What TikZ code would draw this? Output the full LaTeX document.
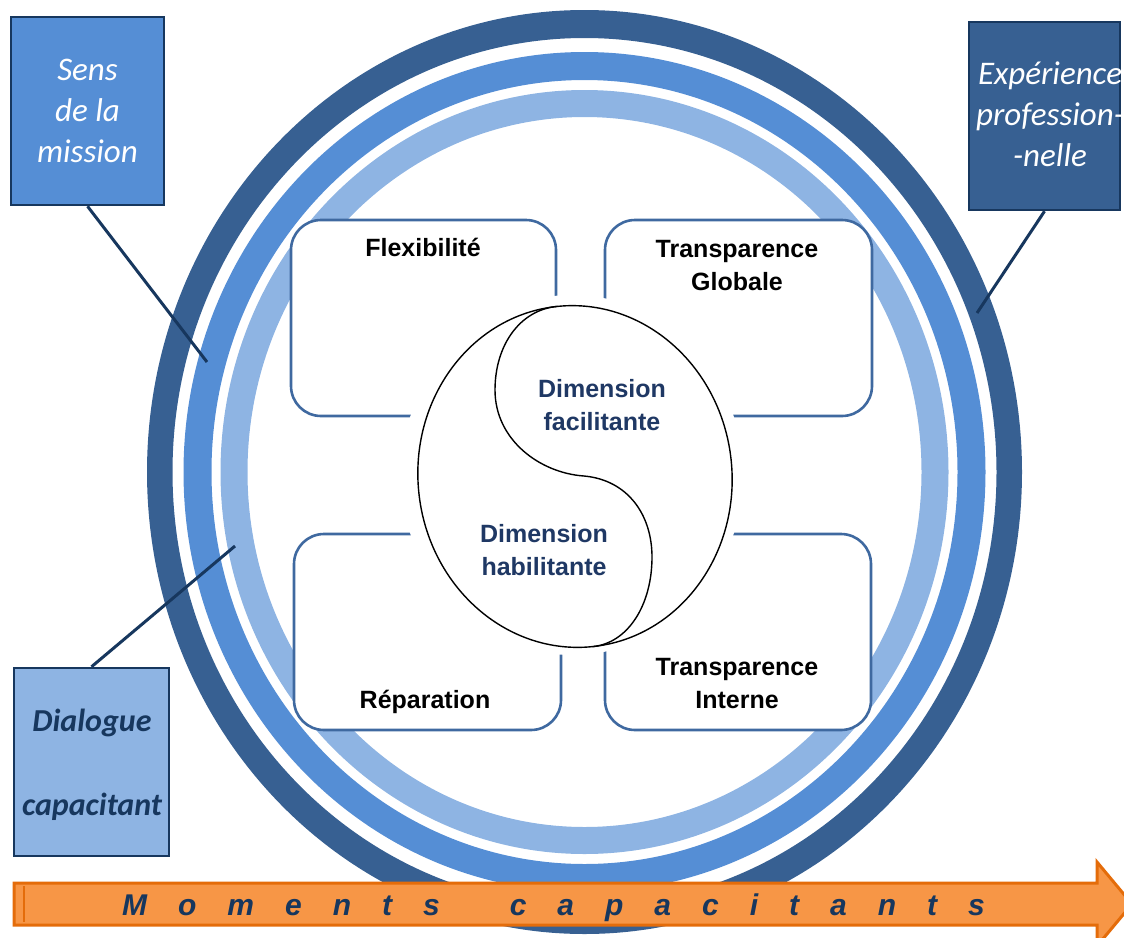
\documentclass[tikz,border=0pt]{standalone}
\usepackage{fontspec}
\newfontfamily\arialf{Liberation Sans}
\newfontfamily\calibf{Carlito}
\definecolor{ringdark}{HTML}{376092}
\definecolor{ringmid}{HTML}{558ED5}
\definecolor{ringlight}{HTML}{8EB4E3}
\definecolor{navy}{HTML}{17375E}
\definecolor{boxline}{HTML}{3F69A0}
\definecolor{dimblue}{HTML}{1F3864}
\definecolor{orfill}{HTML}{F79646}
\definecolor{orline}{HTML}{E46C0A}
\newcommand\gapM{\hspace{31pt}}
\begin{document}
\begin{tikzpicture}[x=1pt,y=-1pt,
  ringpart/.style={even odd rule},
  inbox/.style={draw=boxline, line width=2.6pt, fill=white, rounded corners=30pt, inner sep=0pt},
  callbox/.style={draw=navy, line width=2.5pt, inner sep=0pt},
  leader/.style={draw=navy, line width=3pt},
  boxtxt/.style={font=\arialf\bfseries\fontsize{25}{30}\selectfont, anchor=base, inner sep=0pt, text=black},
  dimtxt/.style={boxtxt, text=dimblue},
  calltxt/.style={font=\calibf\itshape\fontsize{33}{40}\selectfont, text=white, anchor=base, inner sep=0pt},
  dialtxt/.style={font=\calibf\bfseries\itshape\fontsize{32}{38}\selectfont, text=navy, anchor=base, inner sep=0pt},
  arrtxt/.style={font=\arialf\bfseries\itshape\fontsize{30}{36}\selectfont, text=navy, anchor=base, inner sep=0pt}
]
\useasboundingbox (0,0) rectangle (1124,937);
\clip (0,0) rectangle (1124,937);

% rings
\fill[ringdark, ringpart] (584.5,472) ellipse [x radius=437.5, y radius=462]
                          (584.5,472) ellipse [x radius=412, y radius=434];
\fill[ringmid, ringpart]  (584.5,472) ellipse [x radius=401, y radius=420]
                          (584.5,472) ellipse [x radius=373, y radius=392];
\fill[ringlight, ringpart](584.5,472) ellipse [x radius=364, y radius=382]
                          (584.5,472) ellipse [x radius=337, y radius=355];

% callout boxes
\node[callbox, fill=ringmid, minimum width=153pt, minimum height=188pt] (sens) at (87.5,111) {};
\node[callbox, fill=ringdark, minimum width=151pt, minimum height=188pt] (exp) at (1044.5,116) {};
\node[callbox, fill=ringlight, minimum width=155pt, minimum height=188pt] (dial) at (91.5,762) {};

% leader ends
\coordinate (sensend) at (207,362);
\coordinate (expend) at (977,313);
\coordinate (dialend) at (235,546);
\draw[leader] (sens.south) -- (sensend);
\draw[leader] (exp.south) -- (expend);
\draw[leader] (dial.north) -- (dialend);

% callout texts
\node[calltxt] (s1) at (87.5,80) {Sens};
\node[calltxt] (s2) at (87.5,121) {de la};
\node[calltxt] (s3) at (87.5,162) {mission};
\node[calltxt] (e1) at (1050,84) {Expérience};
\node[calltxt] (e2) at (1050,125) {profession-};
\node[calltxt] (e3) at (1050,166) {-nelle};
\node[dialtxt] (d1) at (92,731) {Dialogue};
\node[dialtxt] (d2) at (92,815) {capacitant};

% inner boxes
\node[inbox, minimum width=265pt, minimum height=196pt] (flex) at (423.5,318) {};
\node[inbox, minimum width=267pt, minimum height=196pt] (tg) at (738.5,318) {};
\node[inbox, minimum width=267pt, minimum height=196pt] (rep) at (427.5,632) {};
\node[inbox, minimum width=266pt, minimum height=196pt] (ti) at (738,632) {};

% halo and yin-yang
\fill[white] (572,475) ellipse [x radius=171, y radius=180];
\draw[black, line width=1.4pt, rotate around={6:(575,476.5)}] (575,476.5) ellipse [x radius=157, y radius=171];
\coordinate (ytop) at (557.1,306.4);
\coordinate (ybot) at (592.9,646.6);
\draw[black, line width=1.4pt] (ytop) .. controls (520,310) and (495,345) .. (495,390)
  .. controls (495,440) and (540,473) .. (584,476)
  .. controls (628,480) and (652,515) .. (652,557)
  .. controls (652,605) and (628,643) .. (ybot);

% inner texts
\node[boxtxt] (tflex) at (423,256) {Flexibilité};
\node[boxtxt] (ttg1) at (737,257) {Transparence};
\node[boxtxt] (ttg2) at (737,290) {Globale};
\node[boxtxt] (trep) at (425,708) {Réparation};
\node[boxtxt] (tti1) at (737,675) {Transparence};
\node[boxtxt] (tti2) at (737,708) {Interne};
\node[dimtxt] (df1) at (602,397) {Dimension};
\node[dimtxt] (df2) at (602,430) {facilitante};
\node[dimtxt] (dh1) at (544,542) {Dimension};
\node[dimtxt] (dh2) at (544,575) {habilitante};

% arrow
\draw[fill=orfill, draw=orline, line width=3pt, line join=miter]
  (14,883) -- (1097,883) -- (1097,862) -- (1132,904) -- (1097,946) -- (1097,925) -- (14,925) -- cycle;
\draw[orline, line width=1.5pt] (24,886) -- (24,922);
\node[arrtxt] (mom) at (553.5,915) {M\gapM o\gapM m\gapM e\gapM n\gapM t\gapM s\hspace{70pt}c\gapM a\gapM p\gapM a\gapM c\gapM i\gapM t\gapM a\gapM n\gapM t\gapM s};
\end{tikzpicture}
\end{document}
